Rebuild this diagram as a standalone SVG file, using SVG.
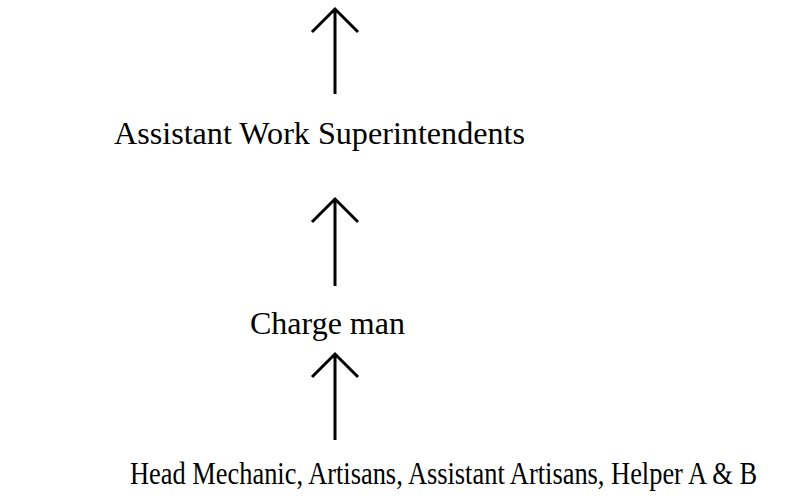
<svg xmlns="http://www.w3.org/2000/svg" width="789" height="499" viewBox="0 0 789 499">
<style>
.t{font-family:"Liberation Serif","Times New Roman",serif;font-size:32px;fill:#000}
.c{stroke:#000;stroke-width:3;fill:none}
</style>
<rect width="789" height="499" fill="#fff"/>
<g id="connectors">
<path class="c" d="M335,9 V94 M312,32 L335,9 L358,32"/>
<path class="c" d="M335,199 V286 M312,222 L335,199 L358,222"/>
<path class="c" d="M335,354 V440 M312,377 L335,354 L358,377"/>
</g>
<g id="n1"><text class="t" x="114" y="144" textLength="411" lengthAdjust="spacingAndGlyphs">Assistant Work Superintendents</text></g>
<g id="n2"><text class="t" x="250" y="334">Charge man</text></g>
<g id="n3"><text class="t" x="130" y="484" textLength="627" lengthAdjust="spacingAndGlyphs">Head Mechanic, Artisans, Assistant Artisans, Helper A &amp; B</text></g>
</svg>
